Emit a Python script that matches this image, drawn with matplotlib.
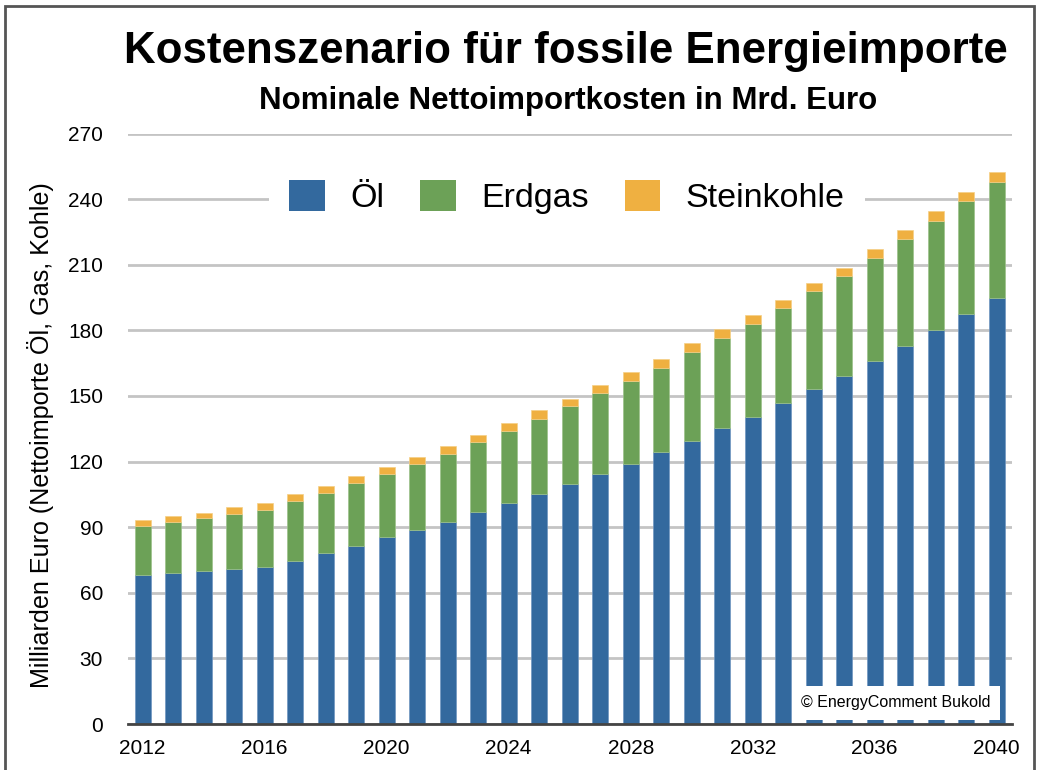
import matplotlib
matplotlib.use("Agg")
import matplotlib.pyplot as plt
from matplotlib.patches import Rectangle, Patch

plt.rcParams['font.family'] = ['Liberation Sans', 'DejaVu Sans']

years = list(range(2012, 2041))
oel = [68, 69, 70, 71, 72, 74.5, 78, 81.5, 85.5, 88.5, 92.5, 97, 101, 105.3, 109.6,
       114.3, 119, 124.5, 129.5, 135.5, 140.6, 147, 153, 159, 166, 173, 180, 187.5, 195]
erdgas = [22.5, 23.5, 24, 25, 26, 27.5, 27.5, 28.5, 29, 30.5, 31, 32, 33, 34.3, 35.7,
          37, 38, 38.5, 40.5, 41, 42.5, 43, 45, 46, 47, 48.6, 50, 51.5, 53]
steinkohle = [3, 2.5, 2.7, 3, 3, 3, 3.4, 3.3, 3, 3.3, 3.8, 3.3, 3.8, 3.9, 3.3,
              3.5, 4, 4, 4, 4, 3.8, 3.8, 3.8, 3.6, 4.3, 4.3, 4.5, 4.1, 4.4]
series_names = ["Öl", "Erdgas", "Steinkohle"]
colors = ["#33699e", "#6ca157", "#efb041"]
yticks = list(range(0, 271, 30))
xtick_years = [2012, 2016, 2020, 2024, 2028, 2032, 2036, 2040]

W, H = 1039, 770
fig = plt.figure(figsize=(W / 100, H / 100), dpi=100)
ax = fig.add_axes([128 / W, 1 - 724 / H, (1012 - 128) / W, (724 - 133.5) / H])

bw = 0.52
bottom2 = [a + b for a, b in zip(oel, erdgas)]
ax.bar(years, oel, width=bw, color=colors[0], edgecolor="#6f95c0", linewidth=0.5, zorder=3)
ax.bar(years, erdgas, bottom=oel, width=bw, color=colors[1], edgecolor="#9cc28a", linewidth=0.5, zorder=3)
ax.bar(years, steinkohle, bottom=bottom2, width=bw, color=colors[2], edgecolor="#f5cf86", linewidth=0.5, zorder=3)

ax.set_xlim(2011.52, 2040.5)
ax.set_ylim(0, 270)
ax.set_yticks(yticks)
ax.set_xticks(xtick_years)
ax.set_xticklabels([str(y) for y in xtick_years])
ax.tick_params(axis='y', length=0, pad=18, labelsize=15)
ax.tick_params(axis='x', length=0, pad=11, labelsize=15)
for s in ["top", "right", "left"]:
    ax.spines[s].set_visible(False)
ax.spines["bottom"].set_color("#444444")
ax.spines["bottom"].set_linewidth(2)
ax.spines["bottom"].set_zorder(5)
ax.yaxis.grid(True, color="#c4c4c4", linewidth=2, zorder=0)
ax.set_axisbelow(True)

ax.set_ylabel("Milliarden Euro (Nettoimporte Öl, Gas, Kohle)", fontsize=18.1)
ax.yaxis.set_label_coords(-74 / (1012 - 128), 0.5 - 6 / (724 - 133.5))

fig.text(566 / W, 1 - 51 / H, "Kostenszenario für fossile Energieimporte",
         ha="center", va="center", fontsize=31.6, fontweight="bold")
fig.text(568 / W, 1 - 101 / H, "Nominale Nettoimportkosten in Mrd. Euro",
         ha="center", va="center", fontsize=22.5, fontweight="bold")

handles = [Patch(facecolor=c, edgecolor="none") for c in colors]
leg = ax.legend(handles, series_names, loc="center", ncol=3,
                bbox_to_anchor=(567 / W, 1 - 197 / H), bbox_transform=fig.transFigure,
                fontsize=24.5, frameon=True, fancybox=False, framealpha=1,
                handlelength=1.05, handleheight=1.05, handletextpad=0.75,
                columnspacing=1.05, borderpad=0.6)
leg.get_frame().set_facecolor("white")
leg.get_frame().set_edgecolor("none")
leg.set_zorder(6)

ax.text(896 / W, 1 - 703 / H, "© EnergyComment Bukold", transform=fig.transFigure,
        ha="center", va="center", fontsize=11.5, zorder=10,
        bbox=dict(facecolor="white", edgecolor="none", pad=7))

fig.add_artist(Rectangle((5 / W, -0.05), (1034 - 5) / W, 1.05 - 6 / H,
                         transform=fig.transFigure, fill=False,
                         edgecolor="#555555", linewidth=2))

fig.savefig("out.png", dpi=100)
